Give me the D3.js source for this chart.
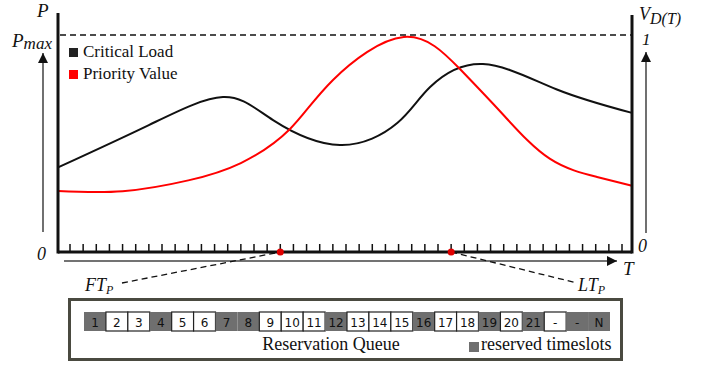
<!DOCTYPE html>
<html><head><meta charset="utf-8">
<script src="https://cdn.jsdelivr.net/npm/d3@7/dist/d3.min.js"></script>
<style>
html,body{margin:0;padding:0;background:#fff;}
svg{display:block;}
text{font-family:"Liberation Serif","Times New Roman",serif;fill:#111;}
.cell{font-family:"DejaVu Sans","Noto Sans",sans-serif;font-size:12px;}
</style></head>
<body>
<script>
// ---- data ----
const criticalLoadSlots = [0.09, 7.0, 12.64, 16.45, 21.54, 25.9, 28.4, 32.42, 38.0, 43.76];
const criticalLoadValues = [0.39, 0.585, 0.714, 0.608, 0.493, 0.594, 0.76, 0.866, 0.75, 0.641];
const prioritySlots = [0.09, 5.0, 10.0, 14.0, 17.74, 21.01, 26.4, 30.67, 34.0, 37.5, 41.1, 43.76];
const priorityValues = [0.281, 0.280, 0.330, 0.410, 0.567, 0.793, 0.991, 0.843, 0.630, 0.430, 0.346, 0.305];
const timeTicks = d3.range(1, 44);          // 43 timeslot ticks
const firstTime = 17, lastTime = 30;       // FT_P and LT_P slots
const seriesNames = ["Critical Load", "Priority Value"];
const seriesColors = ["#222", "#ff0000"];
const queueLabels = ["1","2","3","4","5","6","7","8","9","10","11","12","13","14","15","16","17","18","19","20","21","-","-","N"];
const queueReserved = [1,0,0,1,0,0,1,1,0,0,0,1,0,0,0,1,0,0,1,0,1,0,1,1];

// ---- layout ----
const W = 711, H = 367;
const svg = d3.select("body").append("svg").attr("width", W).attr("height", H);
const x = d3.scaleLinear().domain([1, 43]).range([70, 622]);
const y = d3.scaleLinear().domain([0, 1]).range([252, 35]);
const axL = 58, axR = 632, base = 252;
const serif = "'Liberation Serif','Times New Roman',serif";

const defs = svg.append("defs");
defs.append("marker").attr("id","arr").attr("viewBox","0 0 10 10").attr("refX",10).attr("refY",5)
  .attr("markerWidth",10).attr("markerHeight",10).attr("markerUnits","userSpaceOnUse").attr("orient","auto")
  .append("path").attr("d","M0,0 L10,5 L0,10 Z").attr("fill","#111");

// Pmax dashed line
svg.append("line").attr("x1", axL+2).attr("x2", axR).attr("y1", y(1)).attr("y2", y(1))
  .attr("stroke","#111").attr("stroke-width",1.6).attr("stroke-dasharray","6,4");

// curves
const line = d3.line().x(d => x(d[0])).y(d => y(d[1])).curve(d3.curveNatural);
svg.append("path").datum(criticalLoadSlots.map((s,i)=>[s, criticalLoadValues[i]]))
  .attr("d", line).attr("fill","none").attr("stroke","#111").attr("stroke-width",2);
svg.append("path").datum(prioritySlots.map((s,i)=>[s, priorityValues[i]]))
  .attr("d", line).attr("fill","none").attr("stroke","#ff0000").attr("stroke-width",2);

// axes frame
svg.append("line").attr("x1",axL).attr("x2",axL).attr("y1",13).attr("y2",base+1.5).attr("stroke","#111").attr("stroke-width",3);
svg.append("line").attr("x1",axR).attr("x2",axR).attr("y1",15).attr("y2",base+1.5).attr("stroke","#111").attr("stroke-width",3);
svg.append("line").attr("x1",axL).attr("x2",axR).attr("y1",base).attr("y2",base).attr("stroke","#111").attr("stroke-width",3);
svg.append("g").selectAll("line").data(timeTicks).join("line")
  .attr("x1", d=>x(d)).attr("x2", d=>x(d)).attr("y1", base).attr("y2", base-8)
  .attr("stroke","#111").attr("stroke-width",1.5);

// side arrows
svg.append("line").attr("x1",43).attr("x2",43).attr("y1",232).attr("y2",53).attr("stroke","#111").attr("stroke-width",1.2).attr("marker-end","url(#arr)");
svg.append("line").attr("x1",646).attr("x2",646).attr("y1",233).attr("y2",52).attr("stroke","#111").attr("stroke-width",1.2).attr("marker-end","url(#arr)");
svg.append("line").attr("x1",64).attr("x2",617).attr("y1",261).attr("y2",261).attr("stroke","#444").attr("stroke-width",1.3).attr("marker-end","url(#arr)");

// FT / LT
svg.append("line").attr("x1",122).attr("y1",283).attr("x2",x(firstTime)).attr("y2",base)
  .attr("stroke","#111").attr("stroke-width",1.3).attr("stroke-dasharray","6,4");
svg.append("line").attr("x1",x(lastTime)).attr("y1",base).attr("x2",577).attr("y2",283)
  .attr("stroke","#111").attr("stroke-width",1.3).attr("stroke-dasharray","6,4");
svg.append("g").selectAll("circle").data([firstTime, lastTime]).join("circle")
  .attr("cx", d=>x(d)).attr("cy", base).attr("r",3.5).attr("fill","#e00000");

// axis labels
function ital(xp, yp, main, sub, size, subSize, dy) {
  const t = svg.append("text").attr("x", xp).attr("y", yp).attr("font-family", serif)
    .attr("font-style","italic").attr("font-size", size);
  t.append("tspan").text(main);
  if (sub) t.append("tspan").attr("dy", dy).attr("font-size", subSize).text(sub);
  return t;
}
ital(37, 17, "P", null, 19);
ital(12, 47, "P", "max", 19, 17, 2);
ital(639, 20, "V", "D(T)", 18, 16, 4);
ital(642, 45, "1", null, 17);
ital(37, 260, "0", null, 18);
ital(638, 252, "0", null, 18);
ital(623, 275, "T", null, 19);
ital(85, 291, "FT", "P", 18, 12, 3);
ital(578, 291, "LT", "P", 18, 12, 3);

// legend
const lg = svg.append("g").selectAll("g").data(seriesNames).join("g")
  .attr("transform", (d,i)=>`translate(69,${48 + i*22})`);
lg.append("rect").attr("width",9).attr("height",9).attr("fill",(d,i)=>seriesColors[i]);
lg.append("text").attr("x",14).attr("y",9).attr("font-family", serif).attr("font-size",17).text(d=>d);

// reservation queue box
svg.append("rect").attr("x",69.5).attr("y",299.5).attr("width",552).attr("height",60)
  .attr("fill","none").attr("stroke","#4a4a40").attr("stroke-width",3);
const qx = d3.scaleBand().domain(d3.range(queueLabels.length)).range([84, 610]).padding(0);
const cells = svg.append("g").selectAll("g").data(queueLabels).join("g")
  .attr("transform",(d,i)=>`translate(${qx(i)},312)`);
cells.append("rect").attr("width", qx.bandwidth()).attr("height",19)
  .attr("fill",(d,i)=>queueReserved[i] ? "#6f6f6f" : "#fff")
  .attr("stroke",(d,i)=>queueReserved[i] ? "none" : "#222").attr("stroke-width",1.2);
cells.append("text").attr("class","cell").attr("x", qx.bandwidth()/2).attr("y",15)
  .attr("text-anchor","middle").attr("font-size",13).text(d=>d);
svg.append("text").attr("x",331).attr("y",350).attr("text-anchor","middle").attr("font-family", serif).attr("font-size",18).text("Reservation Queue");
svg.append("rect").attr("x",469).attr("y",342).attr("width",10).attr("height",10).attr("fill","#6f6f6f");
svg.append("text").attr("x",481).attr("y",350).attr("font-family", serif).attr("font-size",18).text("reserved timeslots");
</script>
</body></html>
